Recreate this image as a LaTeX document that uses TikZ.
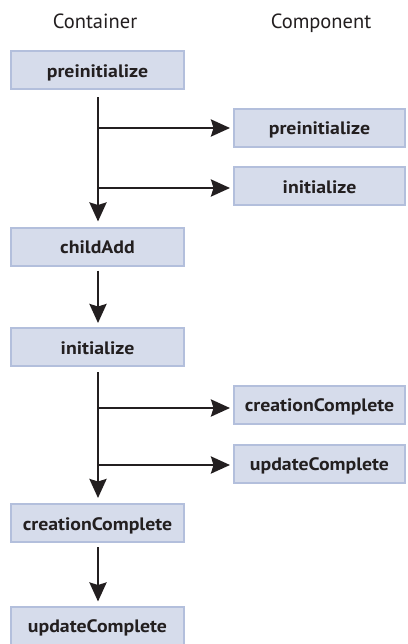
\documentclass[tikz,border=0pt]{standalone}
\usepackage{fontspec}
\setmainfont{PT Sans}
\newfontfamily\boxfont[FakeStretch=1.1]{PT Sans}
\usetikzlibrary{arrows.meta}
\definecolor{boxfill}{HTML}{D6DCEB}
\definecolor{boxline}{HTML}{B3BFDC}
\definecolor{ink}{HTML}{231F20}
\tikzset{
  evbox/.style={draw=boxline, fill=boxfill, line width=2pt, minimum height=38pt,
    inner sep=0pt, text height=14pt, text depth=0pt, text=ink,
    font=\boxfont\fontsize{18}{21}\selectfont\bfseries},
  leftbox/.style={evbox, minimum width=173pt},
  rightbox/.style={evbox, minimum width=171pt},
  heading/.style={text=ink, anchor=base, inner sep=0pt, font=\fontsize{20.5}{24}\selectfont},
  conn/.style={draw=ink, line width=2.7pt},
  arr/.style={conn, -{Stealth[length=19pt,width=17pt,inset=2.5pt]}}
}
\begin{document}
\begin{tikzpicture}[x=1pt,y=-1pt]
\useasboundingbox (0,0) rectangle (407,644);
\node[heading] (hcont) at (95,28.3) {Container};
\node[heading] (hcomp) at (321,28.3) {Component};
% container column
\node[leftbox] (lpre)  at (97.5,70.5) {preinitialize};
\node[leftbox] (lchild) at (97.5,246.5) {childAdd};
\node[leftbox] (linit) at (97.5,347) {initialize};
\node[leftbox] (lcc)   at (97.5,523) {creationComplete};
\node[leftbox] (luc)   at (97.5,625.5) {updateComplete};
% component column
\node[rightbox] (rpre)  at (319.5,128) {preinitialize};
\node[rightbox] (rinit) at (319.5,186.5) {initialize};
\node[rightbox] (rcc)   at (319.5,404.5) {creationComplete};
\node[rightbox] (ruc)   at (319.5,463.5) {updateComplete};
% branch points
\coordinate (b1) at (98,128);
\coordinate (b2) at (98,188);
\coordinate (b3) at (98,408);
\coordinate (b4) at (98,465);
% connectors
\draw[arr, shorten <=7pt, shorten >=5pt] (lpre.south -| b1) -- (lchild.north -| b1);
\draw[arr, shorten >=3pt] (b1) -- (rpre.west |- b1);
\draw[arr, shorten >=3pt] (b2) -- (rinit.west |- b2);
\draw[arr, shorten <=4pt, shorten >=4pt] (lchild.south -| b1) -- (linit.north -| b1);
\draw[arr, shorten <=5pt, shorten >=5pt] (linit.south -| b1) -- (lcc.north -| b1);
\draw[arr, shorten >=3pt] (b3) -- (rcc.west |- b3);
\draw[arr, shorten >=3pt] (b4) -- (ruc.west |- b4);
\draw[arr, shorten <=4pt, shorten >=4pt] (lcc.south -| b1) -- (luc.north -| b1);
\end{tikzpicture}
\end{document}
